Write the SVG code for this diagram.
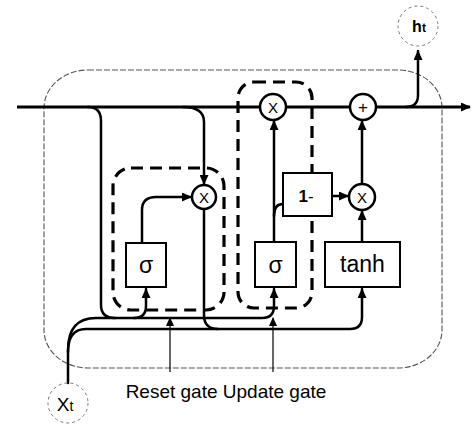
<svg xmlns="http://www.w3.org/2000/svg" width="473" height="426" viewBox="0 0 473 426">
<defs>
<marker id="ah" markerWidth="10" markerHeight="9" refX="9" refY="4.5" orient="auto" markerUnits="userSpaceOnUse"><path d="M0,0 L10,4.5 L0,9 z" fill="#000"/></marker>
<marker id="ahs" markerWidth="9" markerHeight="8" refX="8" refY="4" orient="auto" markerUnits="userSpaceOnUse"><path d="M0,0 L9,4 L0,8 z" fill="#000"/></marker>
<style>
.w{fill:none;stroke:#000;stroke-width:2.5;stroke-linecap:round;stroke-linejoin:round}
.m{fill:none;stroke:#000;stroke-width:3}
.thin{fill:none;stroke:#000;stroke-width:1.2}
.box{fill:#fff;stroke:#000;stroke-width:2}
.op{fill:#fff;stroke:#000;stroke-width:2.5}
.dash{fill:none;stroke:#000;stroke-width:3.2;stroke-dasharray:12 7}
.cell{fill:none;stroke:#555;stroke-width:1.1;stroke-dasharray:6 2}
.io{fill:none;stroke:#777;stroke-width:1;stroke-dasharray:3 3}
.t{font-family:"Liberation Sans",Arial,sans-serif;fill:#000;text-anchor:middle}
</style>
</defs>
<rect width="473" height="426" fill="#fff"/>
<g id="cell">
<rect class="cell" x="44" y="70" width="398" height="298" rx="44" ry="38"/>
</g>
<g id="connectors">
<path class="m" d="M17,107 H470" marker-end="url(#ah)"/>
<path class="w" d="M406,107 Q418,107 418,95 V51" marker-end="url(#ah)"/>
<path class="w" d="M88,107 Q101,107 101,121 V305 Q101,318 115,318"/>
<path class="w" d="M183,107 Q204,107 204,122 V184" marker-end="url(#ah)"/>
<path class="w" d="M142,243 V210 Q142,197 156,197 H191" marker-end="url(#ah)"/>
<path class="w" d="M68,383 V350 Q68,318 96,318 H262 Q274,318 274,306 V289" marker-end="url(#ah)"/>
<path class="w" d="M134,318 Q146,318 146,306 V289" marker-end="url(#ah)"/>
<path class="w" d="M68,352 Q68,329 86,329 H350 Q362,329 362,317 V289" marker-end="url(#ah)"/>
<path class="w" d="M204,209 V315 Q204,329 218,329"/>
<path class="w" d="M274,242 V121" marker-end="url(#ah)"/>
<path class="w" d="M274,216 Q274,204 283,204"/>
<path class="w" d="M332,196 H348" marker-end="url(#ah)"/>
<path class="w" d="M362,242 V211" marker-end="url(#ah)"/>
<path class="w" d="M362,184 V121" marker-end="url(#ah)"/>
<path class="thin" d="M170,372 V318" marker-end="url(#ahs)"/>
<path class="thin" d="M273,372 V318" marker-end="url(#ahs)"/>
</g>
<g id="reset-gate">
<rect class="dash" x="113" y="168" width="111" height="142" rx="18"/>
</g>
<g id="update-gate">
<rect class="dash" x="238" y="82" width="74" height="226" rx="16"/>
</g>
<g id="sigma-reset">
<rect class="box" x="126" y="243" width="40" height="44"/>
<text class="t" x="146" y="273" font-size="23">σ</text>
</g>
<g id="sigma-update">
<rect class="box" x="255" y="242" width="41" height="45"/>
<text class="t" x="275.5" y="273" font-size="23">σ</text>
</g>
<g id="tanh">
<rect class="box" x="325" y="242" width="75" height="45"/>
<text class="t" x="362.5" y="272" font-size="23">tanh</text>
</g>
<g id="one-minus">
<rect class="box" x="283" y="173" width="49" height="43"/>
<text class="t" x="306" y="202" font-size="17" font-weight="bold">1<tspan font-weight="normal">-</tspan></text>
</g>
<g id="mul-reset">
<circle class="op" cx="204" cy="197" r="12"/>
<text class="t" x="204" y="202.5" font-size="15">X</text>
</g>
<g id="mul-update">
<circle class="op" cx="273" cy="107" r="13"/>
<text class="t" x="273" y="112.5" font-size="15">X</text>
</g>
<g id="mul-candidate">
<circle class="op" cx="362" cy="197" r="13"/>
<text class="t" x="362" y="202.5" font-size="15">X</text>
</g>
<g id="plus">
<circle class="op" cx="363" cy="107" r="13"/>
<text class="t" x="363" y="113" font-size="17">+</text>
</g>
<g id="ht">
<circle class="io" cx="418" cy="26" r="20"/>
<text class="t" x="419" y="32" font-size="16" font-weight="bold">h<tspan font-size="12">t</tspan></text>
</g>
<g id="xt">
<circle class="io" cx="68" cy="403" r="20"/>
<text class="t" x="65" y="411" font-size="19">X<tspan font-size="14">t</tspan></text>
</g>
<g id="labels">
<text class="t" x="226" y="398" font-size="19">Reset gate Update gate</text>
</g>
</svg>
